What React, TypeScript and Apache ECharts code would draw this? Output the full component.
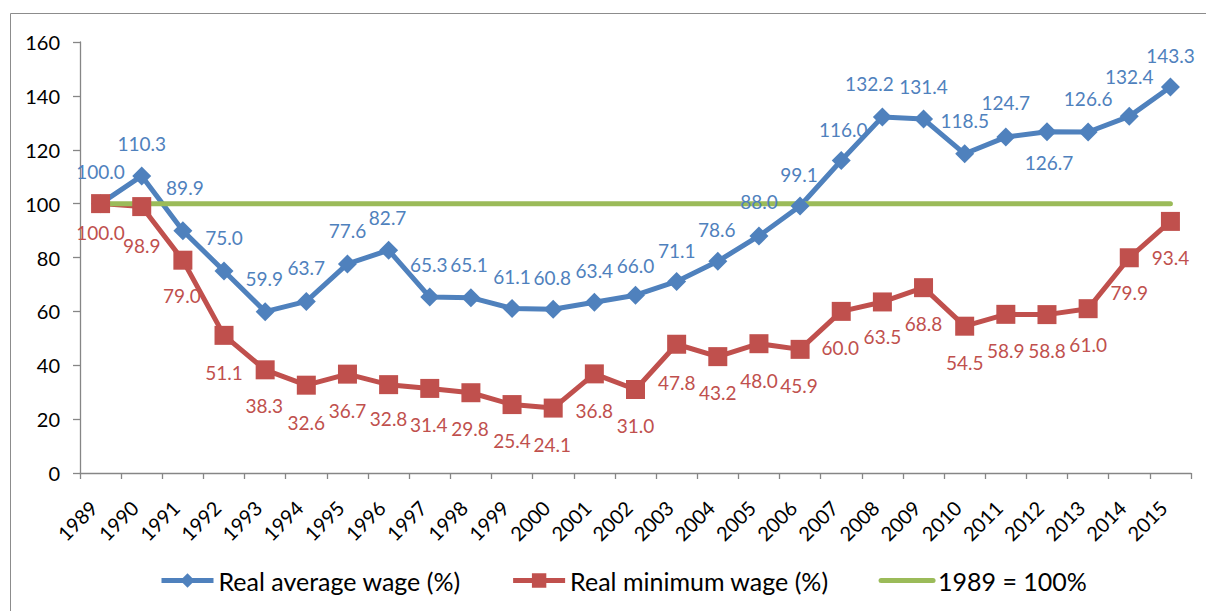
import React, { useEffect, useRef } from "react";
import * as echarts from "echarts";

const years = [
  "1989", "1990", "1991", "1992", "1993", "1994", "1995", "1996", "1997",
  "1998", "1999", "2000", "2001", "2002", "2003", "2004", "2005", "2006",
  "2007", "2008", "2009", "2010", "2011", "2012", "2013", "2014", "2015",
];

const avgWage = [
  100.0, 110.3, 89.9, 75.0, 59.9, 63.7, 77.6, 82.7, 65.3, 65.1, 61.1, 60.8, 63.4,
  66.0, 71.1, 78.6, 88.0, 99.1, 116.0, 132.2, 131.4, 118.5, 124.7, 126.7, 126.6,
  132.4, 143.3,
];

const minWage = [
  100.0, 98.9, 79.0, 51.1, 38.3, 32.6, 36.7, 32.8, 31.4, 29.8, 25.4, 24.1, 36.8,
  31.0, 47.8, 43.2, 48.0, 45.9, 60.0, 63.5, 68.8, 54.5, 58.9, 58.8, 61.0, 79.9,
  93.4,
];

const baseLevel = [
  100, 100, 100, 100, 100, 100, 100, 100, 100, 100, 100, 100, 100, 100, 100, 100,
  100, 100, 100, 100, 100, 100, 100, 100, 100, 100, 100,
];

const yTicks = { min: 0, max: 160, interval: 20 };

// label placement (styling only, offsets of label centre from the marker)
const avgLabelDX = [0, 0, 2, 0, -1, 0, 0, -1, -1, -2, 0, -1, 0, 0, 0, -1, 0, -1, 2, -13, 0, 0, 0, 2, 0, 0, 0];
const avgLabelDY = [-32, -32, -43, -33, -33, -34, -33, -33, -33, -33, -32, -32, -32, -30, -31, -32, -34, -32, -31, -33, -33, -33, -35, 31, -33, -40, -31];
const minLabelDX = [0, 0, -1, 0, -1, 0, 0, 0, -1, -1, 0, -1, 0, 0, 0, 0, 0, -1, -1, 0, 0, 0, 0, 0, 0, 0, 0];
const minLabelDY = [29, 39, 35, 37, 36, 37, 36, 34, 36, 36, 36, 36, 37, 36, 38, 36, 37, 36, 36, 35, 36, 36, 36, 36, 36, 35, 36];

const BLUE = "#4F81BD";
const RED = "#C0504D";
const GREEN = "#9BBB59";
const FONT = "Lato";

export default function App() {
  const ref = useRef<HTMLDivElement>(null);

  useEffect(() => {
    if (!ref.current) return;
    const chart = echarts.init(ref.current, undefined, { renderer: "svg" });

    const avgData = avgWage.map((v, i) => ({
      value: v,
      label: { offset: [avgLabelDX[i], avgLabelDY[i]] },
    }));
    const minData = minWage.map((v, i) => ({
      value: v,
      label: { offset: [minLabelDX[i], minLabelDY[i]] },
    }));

    chart.setOption({
      animation: false,
      backgroundColor: "#ffffff",
      textStyle: { fontFamily: FONT },
      graphic: [
        {
          type: "rect",
          silent: true,
          shape: { x: 10.5, y: 13.5, width: 1400, height: 800 },
          style: { fill: "none", stroke: "#8c8c8c", lineWidth: 1 },
          z: 0,
        },
      ],
      grid: { left: 80, right: 15, top: 42, bottom: 138, containLabel: false },
      legend: {
        left: 154,
        top: 563,
        itemGap: 50,
        itemWidth: 52,
        itemHeight: 18,
        lineStyle: { width: 5 },
        textStyle: { fontFamily: FONT, fontSize: 25, color: "#000" },
        data: [
          { name: "Real average wage (%)" },
          { name: "Real minimum wage (%)" },
          { name: "1989 = 100%", itemStyle: { color: "rgba(0,0,0,0)", opacity: 0 } },
        ],
      },
      xAxis: {
        type: "category",
        data: years,
        boundaryGap: true,
        axisLine: { lineStyle: { color: "#868686", width: 1.3 } },
        axisTick: { show: true, length: 6, alignWithLabel: false, lineStyle: { color: "#868686", width: 1.3 } },
        axisLabel: {
          interval: 0,
          rotate: 45,
          margin: 24,
          padding: [0, 10, 0, 0],
          fontFamily: FONT,
          fontSize: 20,
          color: "#000",
        },
        splitLine: { show: false },
      },
      yAxis: {
        type: "value",
        min: yTicks.min,
        max: yTicks.max,
        interval: yTicks.interval,
        axisLine: { show: true, lineStyle: { color: "#868686", width: 1.3 } },
        axisTick: { show: true, length: 7, lineStyle: { color: "#868686", width: 1.3 } },
        axisLabel: { margin: 20, fontFamily: FONT, fontSize: 20, color: "#000" },
        splitLine: { show: false },
      },
      series: [
        {
          name: "Real average wage (%)",
          type: "line",
          data: avgData,
          symbol: "diamond",
          symbolSize: 19,
          itemStyle: { color: BLUE },
          lineStyle: { color: BLUE, width: 5 },
          label: {
            show: true,
            position: "inside",
            fontFamily: FONT,
            fontSize: 19,
            color: BLUE,
            formatter: (p: any) => Number(p.value).toFixed(1),
          },
          z: 3,
        },
        {
          name: "Real minimum wage (%)",
          type: "line",
          data: minData,
          symbol: "rect",
          symbolSize: 19,
          itemStyle: { color: RED },
          lineStyle: { color: RED, width: 5 },
          label: {
            show: true,
            position: "inside",
            fontFamily: FONT,
            fontSize: 19,
            color: RED,
            formatter: (p: any) => Number(p.value).toFixed(1),
          },
          z: 3,
        },
        {
          name: "1989 = 100%",
          type: "line",
          data: baseLevel,
          symbol: "none",
          itemStyle: { color: GREEN },
          lineStyle: { color: GREEN, width: 5, cap: "round" },
          z: 3,
        },
      ],
    });

    return () => chart.dispose();
  }, []);

  return (
    <div
      ref={ref}
      style={{ position: "fixed", left: 0, top: 0, width: 1206, height: 611 }}
    />
  );
}
